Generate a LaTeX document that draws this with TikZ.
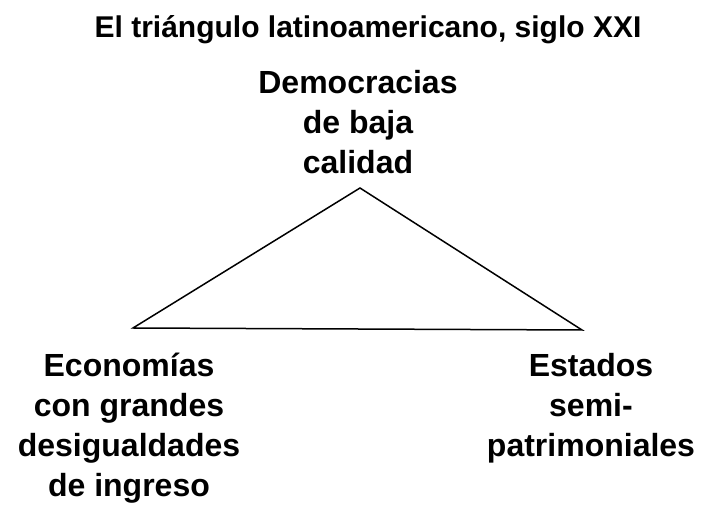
\documentclass[tikz,border=0pt]{standalone}
\usepackage{fontspec}
\setmainfont{Liberation Sans}
\begin{document}
\begin{tikzpicture}[x=1pt,y=-1pt,
  lbl/.style={font=\bfseries\fontsize{32}{40}\selectfont,align=center,inner sep=0pt},
  vtx/.style={inner sep=0pt,minimum size=0pt}]
\useasboundingbox (0,0) rectangle (716,518);
\node[lbl,font=\bfseries\fontsize{30}{32}\selectfont] (title) at (368,30) {El triángulo latinoamericano, siglo XXI};
\node[vtx] (a) at (360,188) {};
\node[vtx] (b) at (133,328) {};
\node[vtx] (c) at (582,330) {};
\draw[line width=1.5pt,line join=miter] (a.center) -- (b.center) -- (c.center) -- cycle;
\node[lbl] (top) at (358,122) {Democracias\\de baja\\calidad};
\node[lbl] (left) at (129,428) {Economías\\con grandes\\desigualdades\\de ingreso};
\node[lbl] (right) at (591,408) {Estados\\semi-\\patrimoniales};
\end{tikzpicture}
\end{document}
